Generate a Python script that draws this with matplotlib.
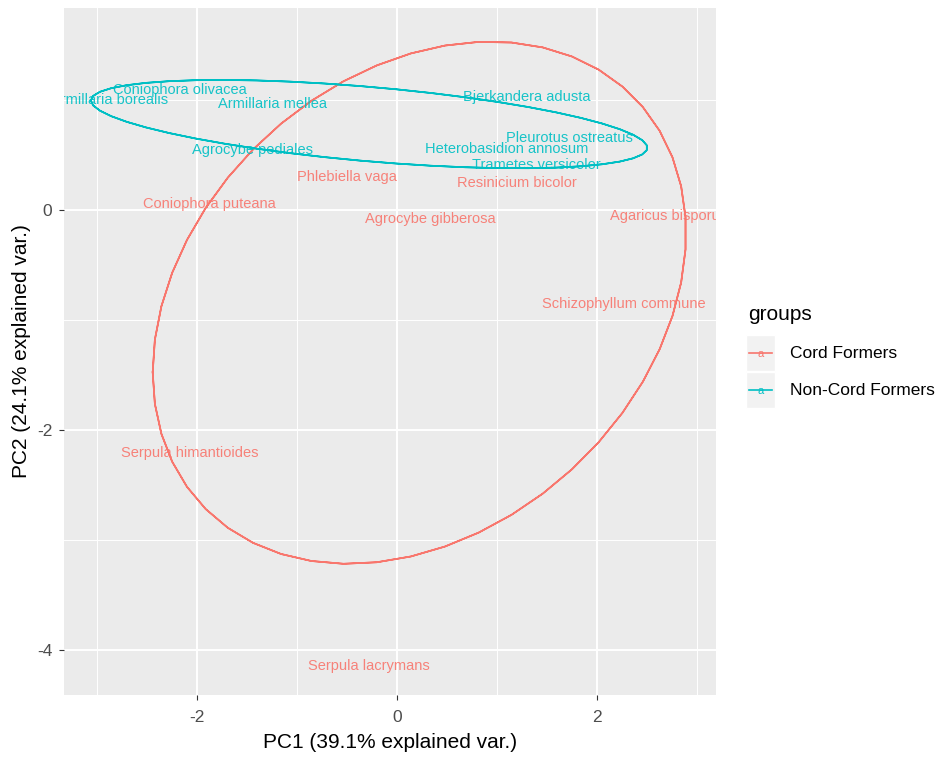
import numpy as np
import matplotlib.pyplot as plt
from matplotlib.lines import Line2D
from matplotlib.patches import Rectangle

plt.rcParams['font.family'] = ['Liberation Sans', 'DejaVu Sans']
plt.rcParams['axes.unicode_minus'] = False

# PCA scores (PC1, PC2)
cord_names = ['Phlebiella vaga', 'Coniophora puteana', 'Agrocybe gibberosa',
              'Resinicium bicolor', 'Agaricus bisporus', 'Schizophyllum commune',
              'Serpula himantioides', 'Serpula lacrymans']
cord_pc1 = [-0.50, -1.88, 0.33, 1.20, 2.72, 2.27, -2.07, -0.28]
cord_pc2 = [0.30, 0.06, -0.08, 0.25, -0.05, -0.85, -2.21, -4.15]

noncord_names = ['Armillaria borealis', 'Coniophora olivacea', 'Armillaria mellea',
                 'Agrocybe pediales', 'Bjerkandera adusta', 'Pleurotus ostreatus',
                 'Heterobasidion annosum', 'Trametes versicolor']
noncord_pc1 = [-2.87, -2.17, -1.25, -1.45, 1.30, 1.72, 1.10, 1.39]
noncord_pc2 = [1.00, 1.09, 0.97, 0.55, 1.03, 0.66, 0.56, 0.41]

group_labels = ['Cord Formers', 'Non-Cord Formers']
group_colors = ['#F8766D', '#00BFC4']


# normal-theory ellipse as drawn by ggbiplot (ellipse.prob = 0.68)
def data_ellipse(x, y, prob=0.68):
    theta = np.concatenate([np.linspace(-np.pi, np.pi, 50), np.linspace(np.pi, -np.pi, 50)])
    circle = np.column_stack([np.cos(theta), np.sin(theta)])
    ed = np.sqrt(-2 * np.log(1 - prob))
    sigma = np.cov(np.vstack([x, y]))
    R = np.linalg.cholesky(sigma).T
    ell = circle @ R * ed + np.array([np.mean(x), np.mean(y)])
    return ell[:, 0], ell[:, 1]


fig = plt.figure(figsize=(9.4, 7.58), dpi=100)
ax = fig.add_axes([64 / 940, 1 - 695 / 758, (716 - 64) / 940, (695 - 8) / 758])
ax.set_facecolor('#EBEBEB')

groups = [(cord_names, cord_pc1, cord_pc2), (noncord_names, noncord_pc1, noncord_pc2)]
for (names, xs, ys), col in zip(groups, group_colors):
    ex, ey = data_ellipse(np.array(xs), np.array(ys))
    ax.plot(ex, ey, color=col, lw=1.2, zorder=3)
    for n, xv, yv in zip(names, xs, ys):
        ax.text(xv, yv, n, color=col, fontsize=10.5, ha='center', va='center',
                alpha=0.9, clip_on=True, zorder=4)

ax.set_xlim(-3.33, 3.19)
ax.set_ylim(-4.41, 1.84)

ax.set_xticks([-2, 0, 2])
ax.set_yticks([-4, -2, 0])
ax.set_xticks([-3, -1, 1, 3], minor=True)
ax.set_yticks([-3, -1, 1], minor=True)
ax.grid(which='major', color='white', lw=1.4, zorder=0)
ax.grid(which='minor', color='white', lw=0.7, zorder=0)
ax.set_axisbelow(True)
for s in ax.spines.values():
    s.set_visible(False)
ax.tick_params(which='major', length=3.5, width=0.8, color='#333333',
               labelcolor='#4D4D4D', labelsize=12.5)
ax.tick_params(axis='x', which='major', pad=7)
ax.tick_params(axis='y', which='major', pad=5)
ax.tick_params(which='minor', length=0)

# axis titles centred on the panel, as ggplot does
ax.set_xlabel('PC1 (39.1% explained var.)', fontsize=15, va='center')
ax.set_ylabel('PC2 (24.1% explained var.)', fontsize=15, va='center')
ax.xaxis.set_label_coords(0.5, -(742 - 695) / 687)
ax.yaxis.set_label_coords(-(64 - 22) / 652, 0.5)

# legend drawn by hand, ggplot style
fig.text(748 / 940, 1 - 315 / 758, 'groups', fontsize=15, va='center', ha='left')
for i, (lab, col) in enumerate(zip(group_labels, group_colors)):
    yc = 353 + i * 37
    fig.add_artist(Rectangle((746 / 940, 1 - (yc + 18) / 758), 29 / 940, 36 / 758,
                             transform=fig.transFigure, facecolor='#F2F2F2',
                             edgecolor='white', lw=1))
    fig.add_artist(Line2D([749 / 940, 772 / 940], [1 - yc / 758, 1 - yc / 758],
                          transform=fig.transFigure, color=col, lw=1.2))
    fig.text(760.5 / 940, 1 - (yc + 1) / 758, 'a', color=col, fontsize=8,
             ha='center', va='center')
    fig.text(790 / 940, 1 - yc / 758, lab, fontsize=12.5, va='center', ha='left')

fig.savefig('out.png', dpi=100)
